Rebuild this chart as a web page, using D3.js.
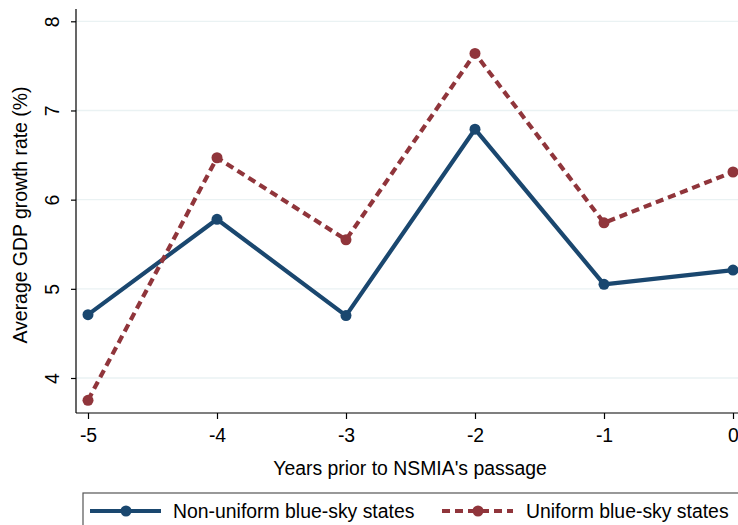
<!DOCTYPE html>
<html>
<head>
<meta charset="utf-8">
<script src="https://cdn.jsdelivr.net/npm/d3@7"></script>
<style>
  body { margin: 0; background: #fff; }
  svg text { font-family: "Liberation Sans", Arial, sans-serif; fill: #000; }
</style>
</head>
<body>
<svg width="738" height="525"></svg>
<script>
// data
const years = [-5, -4, -3, -2, -1, 0];
const nonUniform = [4.71, 5.78, 4.70, 6.79, 5.05, 5.21];
const uniform = [3.75, 6.47, 5.55, 7.64, 5.74, 6.31];
const yTicks = [4, 5, 6, 7, 8];
const seriesNames = ["Non-uniform blue-sky states", "Uniform blue-sky states"];

const blue = "#1a476f", red = "#90353b";
const fs = "19.4px";

const svg = d3.select("svg");

// plot region
const plotLeft = 76, plotRight = 738, plotTop = 9, plotBottom = 413;

const x = d3.scaleLinear().domain([-5, 0]).range([88, 733]);
const y = d3.scaleLinear().domain([4, 8]).range([378, 21.3]);

// gridlines
svg.append("g").selectAll("line").data(yTicks).enter().append("line")
  .attr("x1", plotLeft).attr("x2", plotRight)
  .attr("y1", d => y(d)).attr("y2", d => y(d))
  .attr("stroke", "#eaf2f3").attr("stroke-width", 1.3);

// Y axis
const yAxis = d3.axisLeft(y).tickValues(yTicks).tickSize(5).tickPadding(0).tickFormat(d3.format("d"));
const gy = svg.append("g").attr("transform", `translate(${plotLeft},0)`).call(yAxis);
gy.select(".domain").remove();
gy.append("line").attr("x1", 0).attr("x2", 0).attr("y1", plotTop).attr("y2", plotBottom)
  .attr("stroke", "#000").attr("stroke-width", 1.2);
gy.selectAll(".tick line").attr("stroke", "#000").attr("stroke-width", 1.2);
gy.selectAll(".tick text")
  .attr("font-size", fs)
  .attr("text-anchor", "middle")
  .attr("x", 0).attr("y", 0).attr("dy", 0)
  .attr("transform", "translate(-17,0) rotate(-90)");

// X axis
const xAxis = d3.axisBottom(x).tickValues(years).tickSize(6).tickPadding(9).tickFormat(d3.format("d"));
const gx = svg.append("g").attr("transform", `translate(0,${plotBottom})`).call(xAxis);
gx.select(".domain").remove();
gx.append("line").attr("x1", plotLeft).attr("x2", plotRight).attr("y1", 0).attr("y2", 0)
  .attr("stroke", "#000").attr("stroke-width", 1.2);
gx.selectAll(".tick line").attr("stroke", "#000").attr("stroke-width", 1.2);
gx.selectAll(".tick text").attr("font-size", fs).text(d => d < 0 ? "-" + Math.abs(d) : d);

// axis titles
svg.append("text")
  .attr("x", 410).attr("y", 475)
  .attr("font-size", fs).attr("text-anchor", "middle")
  .text("Years prior to NSMIA's passage");

svg.append("text")
  .attr("transform", `translate(27,${(plotTop + plotBottom) / 2 + 4}) rotate(-90)`)
  .attr("font-size", fs).attr("text-anchor", "middle")
  .text("Average GDP growth rate (%)");

// lines
const line = d3.line().x((d, i) => x(years[i])).y(d => y(d));

svg.append("path").datum(nonUniform)
  .attr("d", line).attr("fill", "none")
  .attr("stroke", blue).attr("stroke-width", 4.2).attr("stroke-linejoin", "round");

svg.append("path").datum(uniform)
  .attr("d", line).attr("fill", "none")
  .attr("stroke", red).attr("stroke-width", 4.2).attr("stroke-dasharray", "8,5");

svg.append("g").selectAll("circle").data(nonUniform).enter().append("circle")
  .attr("cx", (d, i) => x(years[i])).attr("cy", d => y(d)).attr("r", 5.5).attr("fill", blue);

svg.append("g").selectAll("circle").data(uniform).enter().append("circle")
  .attr("cx", (d, i) => x(years[i])).attr("cy", d => y(d)).attr("r", 5.5).attr("fill", red);

// legend
const legend = svg.append("g");
legend.append("rect")
  .attr("x", 83).attr("y", 493).attr("width", 680).attr("height", 60)
  .attr("fill", "#fff").attr("stroke", "#555").attr("stroke-width", 1.2);

const legItems = [
  {name: seriesNames[0], color: blue, dash: null, x0: 90, tx: 173},
  {name: seriesNames[1], color: red, dash: "8,5", x0: 442, tx: 526}
];
legItems.forEach(d => {
  legend.append("line")
    .attr("x1", d.x0).attr("x2", d.x0 + 71).attr("y1", 511).attr("y2", 511)
    .attr("stroke", d.color).attr("stroke-width", 4.2)
    .attr("stroke-dasharray", d.dash);
  legend.append("circle")
    .attr("cx", d.x0 + 36).attr("cy", 511).attr("r", 5.5).attr("fill", d.color);
  legend.append("text")
    .attr("x", d.tx).attr("y", 518)
    .attr("font-size", fs)
    .text(d.name);
});
</script>
</body>
</html>
